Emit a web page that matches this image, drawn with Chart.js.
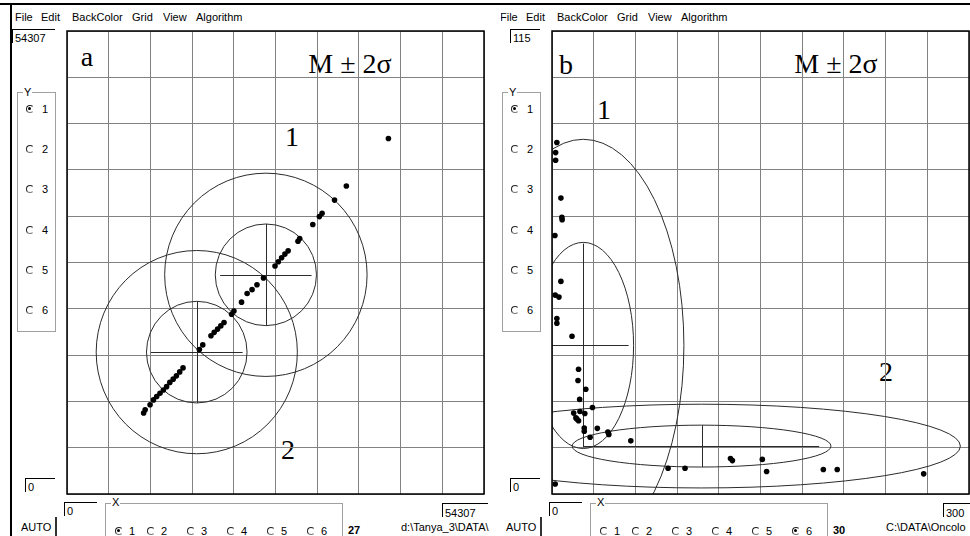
<!DOCTYPE html>
<html>
<head>
<meta charset="utf-8">
<script src="https://cdn.jsdelivr.net/npm/chart.js@4.4.1/dist/chart.umd.min.js"></script>
<style>
body{margin:0;width:970px;height:536px;overflow:hidden;background:#fff;position:relative;font-family:"Liberation Sans",Arial,sans-serif;font-size:11px;color:#000}
.topline{position:absolute;left:0;top:3px;width:970px;height:2px;background:#000}
.wrap{position:absolute;top:5px;height:531px;overflow:hidden;background:#fff}
.inner{position:absolute;top:-5px;width:500px;height:536px}
.t{position:absolute;white-space:nowrap;line-height:1}
.frame{position:absolute;left:10px;top:4px;width:2px;height:532px;background:#000}
.box{position:absolute;border-top:1px solid #000;border-left:1px solid #000;height:14px;padding-left:2px;box-sizing:border-box;line-height:1;white-space:nowrap}
.group{position:absolute;border:1px solid #a0a0a0;box-sizing:border-box}
.glabel{position:absolute;background:#fff;padding:0 1px;line-height:1}
.radio{position:absolute;width:8px;height:8px;border-radius:50%;box-sizing:border-box;border:1.4px solid #222;border-right-color:transparent;border-bottom-color:#777}
.radio.on::after{content:'';position:absolute;left:1.3px;top:1.3px;width:3px;height:3px;background:#000;border-radius:50%}
.bar{position:absolute;width:2px;background:#333}
.serif{position:absolute;font-family:"Liberation Serif","Times New Roman",serif;font-size:28px;line-height:1;transform:translate(-50%,-50%);white-space:nowrap}
canvas{position:absolute}
</style>
</head>
<body>
<div class="topline"></div>
<div class="wrap" style="left:0;width:497px"><div class="inner" id="panelA" style="left:0"></div></div>
<div class="wrap" style="left:501px;width:469px"><div class="inner" id="panelB" style="left:-16px"></div></div>
<script>
// 面板 a 的数据点
const aX = [41860, 36380, 34840, 33220, 32870, 32010, 30300, 30080, 28800, 28380, 27950, 27520, 27090, 25590, 24740, 24100, 23460, 22730, 21740, 21440, 20450, 20030, 19610, 19170, 18750, 17680, 17240, 15110, 14680, 14250, 13830, 13390, 12970, 12550, 12110, 11680, 11260, 10820, 10180, 9980];
const aY = [41690, 36130, 34470, 32920, 32540, 31610, 29960, 29650, 28520, 28140, 27710, 27250, 26750, 25330, 24550, 23970, 23510, 22500, 21460, 21080, 20110, 19720, 19340, 18960, 18560, 17490, 16940, 14790, 14320, 13860, 13470, 13090, 12590, 12190, 11810, 11430, 11040, 10460, 9880, 9500];

// 面板 a 的两组均值与标准差
const aMeanX = [16900, 25900];
const aMeanY = [16640, 25710];
const aSdX = [6550, 6590];
const aSdY = [5960, 5960];
const aCrossX = [5970, 5950];
const aCrossY = [5960, 5960];

// 面板 b 的数据点
const bX = [3.5, 2.6, 2.6, 6.4, 7.1, 7.3, 2.1, 6.4, 2.3, 5.0, 3.5, 3.5, 14.4, 19.1, 18.7, 24.3, 19.9, 29.1, 15.6, 20.1, 23.6, 17.2, 19.1, 17.9, 23.2, 23.2, 32.6, 27.4, 40.2, 40.9, 56.7, 83.5, 95.7, 128.4, 129.8, 151.3, 154.4, 195.2, 205.2, 267.4, 2.3];
const bY = [87.3, 84.8, 82.9, 73.5, 68.7, 68.1, 64.2, 52.8, 49.4, 48.9, 43.6, 42.4, 39.2, 31.0, 28.2, 26.0, 23.5, 21.5, 20.1, 20.5, 20.0, 18.9, 18.2, 18.6, 16.4, 15.6, 16.3, 14.1, 15.4, 14.8, 13.2, 6.4, 6.4, 8.8, 8.3, 8.6, 5.6, 6.1, 6.1, 5.0, 2.5];

// 面板 b 的两组均值与标准差
const bMeanX = [22.5, 107.6];
const bMeanY = [36.9, 11.9];
const bSdX = [36.2, 93.1];
const bSdY = [25.6, 5.2];
const bCrossX = [32.6, 84.6];
const bCrossY = [25.3, 5.2];

// 界面文字
const menuItems = ['File', 'Edit', 'BackColor', 'Grid', 'View', 'Algorithm'];
const radioLabels = ['1', '2', '3', '4', '5', '6'];

function el(parent, cls, style, text) {
    const d = document.createElement('div');
    d.className = cls;
    d.style.cssText = style;
    if (text !== undefined) d.textContent = text;
    parent.appendChild(d);
    return d;
}

// 窗口框架：菜单、单选框、上下限输入框
function buildChrome(root, cfg) {
    el(root, 'frame', '');
    const menuX = [15, 41, 72, 132, 163, 196];
    menuItems.forEach((m, i) => el(root, 't', `left:${menuX[i]}px;top:12px`, m));

    el(root, 'box', `left:${cfg.yMaxLeft}px;top:29px;width:${55 - cfg.yMaxLeft}px;padding-top:3px`, cfg.yMax);

    el(root, 'group', 'left:17px;top:92px;width:39px;height:240px');
    el(root, 'glabel', 'left:23px;top:87px', 'Y');
    const yRows = [109, 149, 189, 230, 270, 310];
    radioLabels.forEach((r, i) => {
        el(root, 'radio' + (cfg.yOn === i ? ' on' : ''), `left:26px;top:${yRows[i] - 4}px`);
        el(root, 't', `left:42px;top:${yRows[i] - 5.5}px`, r);
    });

    el(root, 'box', 'left:25px;top:478px;width:30px;padding-top:3px', '0');
    el(root, 'box', 'left:64px;top:502px;width:33px;padding-top:3px', '0');
    el(root, 't', 'left:21px;top:522px', 'AUTO');
    el(root, 'bar', 'left:55px;top:517px;height:19px');

    el(root, 'group', 'left:105px;top:503px;width:238px;height:60px');
    el(root, 'glabel', 'left:111px;top:497px', 'X');
    const xCols = [115, 147, 187, 227, 267, 307];
    radioLabels.forEach((r, i) => {
        el(root, 'radio' + (cfg.xOn === i ? ' on' : ''), `left:${xCols[i]}px;top:527px`);
        el(root, 't', `left:${xCols[i] + 14}px;top:525.5px`, r);
    });
    el(root, 't', 'left:348px;top:525px;font-weight:bold', cfg.count);
    el(root, 'box', `left:${cfg.xMaxLeft}px;top:503px;width:${488 - cfg.xMaxLeft}px;padding-top:4px`, cfg.xMax);
    el(root, 't', 'left:401px;top:522px', cfg.path);

    cfg.labels.forEach(l => el(root, 'serif', `left:${l[1]}px;top:${l[2]}px`, l[0]));
}

// 椭圆 (M±σ, M±2σ) 与十字线
function groupsPlugin(g) {
    return {
        id: 'groups',
        beforeDatasetsDraw(chart) {
            const { ctx, chartArea: area, scales: { x, y } } = chart;
            ctx.save();
            ctx.beginPath();
            ctx.rect(area.left, area.top, area.width, area.height);
            ctx.clip();
            ctx.strokeStyle = '#2b2b2b';
            ctx.lineWidth = 1;
            g.meanX.forEach((mx, i) => {
                const my = g.meanY[i];
                const cx = x.getPixelForValue(mx);
                const cy = y.getPixelForValue(my);
                const rx = x.getPixelForValue(mx + g.sdX[i]) - cx;
                const ry = cy - y.getPixelForValue(my + g.sdY[i]);
                [1, 2].forEach(k => {
                    ctx.beginPath();
                    ctx.ellipse(cx, cy, rx * k, ry * k, 0, 0, Math.PI * 2);
                    ctx.stroke();
                });
                ctx.beginPath();
                ctx.moveTo(x.getPixelForValue(mx - g.crossX[i]), Math.round(cy) + 0.5);
                ctx.lineTo(x.getPixelForValue(mx + g.crossX[i]), Math.round(cy) + 0.5);
                ctx.moveTo(Math.round(cx) + 0.5, y.getPixelForValue(my - g.crossY[i]));
                ctx.lineTo(Math.round(cx) + 0.5, y.getPixelForValue(my + g.crossY[i]));
                ctx.stroke();
            });
            ctx.restore();
        },
        afterDraw(chart) {
            const { ctx, chartArea: area } = chart;
            ctx.save();
            ctx.strokeStyle = '#000';
            ctx.lineWidth = 1.5;
            ctx.strokeRect(area.left, area.top, area.width, area.height);
            ctx.restore();
        }
    };
}

function tenSteps(scale) {
    const step = (scale.max - scale.min) / 10;
    scale.ticks = Array.from({ length: 11 }, (_, i) => ({ value: scale.min + i * step }));
}

function axis(max) {
    return {
        type: 'linear',
        min: 0,
        max: max,
        afterBuildTicks: tenSteps,
        ticks: { display: false },
        grid: { color: '#828282', lineWidth: 1, drawTicks: false },
        border: { display: false }
    };
}

function makeChart(root, xs, ys, xMax, yMax, groups) {
    const canvas = document.createElement('canvas');
    canvas.width = 425;
    canvas.height = 471;
    canvas.style.cssText = 'left:63px;top:27px;width:425px;height:471px';
    root.appendChild(canvas);
    return new Chart(canvas.getContext('2d'), {
        type: 'scatter',
        data: {
            datasets: [{
                data: xs.map((v, i) => ({ x: v, y: ys[i] })),
                backgroundColor: '#000',
                borderColor: '#000',
                borderWidth: 0,
                pointRadius: 2.8,
                clip: false
            }]
        },
        options: {
            responsive: false,
            animation: false,
            layout: { padding: 1 },
            plugins: { legend: { display: false }, tooltip: { enabled: false } },
            scales: { x: axis(xMax), y: axis(yMax) }
        },
        plugins: [groupsPlugin(groups)]
    });
}

const panelA = document.getElementById('panelA');
const panelB = document.getElementById('panelB');

buildChrome(panelA, {
    yMax: '54307', yMaxLeft: 12, xMax: '54307', xMaxLeft: 442,
    yOn: 0, xOn: 0, count: '27', path: 'd:\\Tanya_3\\DATA\\',
    labels: [['a', 87, 57], ['M \u00b1 2\u03c3', 350, 64], ['1', 292, 137], ['2', 288, 450]]
});
buildChrome(panelB, {
    yMax: '115', yMaxLeft: 25, xMax: '300', xMaxLeft: 458,
    yOn: 0, xOn: 5, count: '30', path: 'C:\\DATA\\Oncolo',
    labels: [['b', 81, 65], ['M \u00b1 2\u03c3', 351, 64], ['1', 119, 110], ['2', 401, 372]]
});

makeChart(panelA, aX, aY, 54307, 54307,
    { meanX: aMeanX, meanY: aMeanY, sdX: aSdX, sdY: aSdY, crossX: aCrossX, crossY: aCrossY });
makeChart(panelB, bX, bY, 300, 115,
    { meanX: bMeanX, meanY: bMeanY, sdX: bSdX, sdY: bSdY, crossX: bCrossX, crossY: bCrossY });
</script>
</body>
</html>
